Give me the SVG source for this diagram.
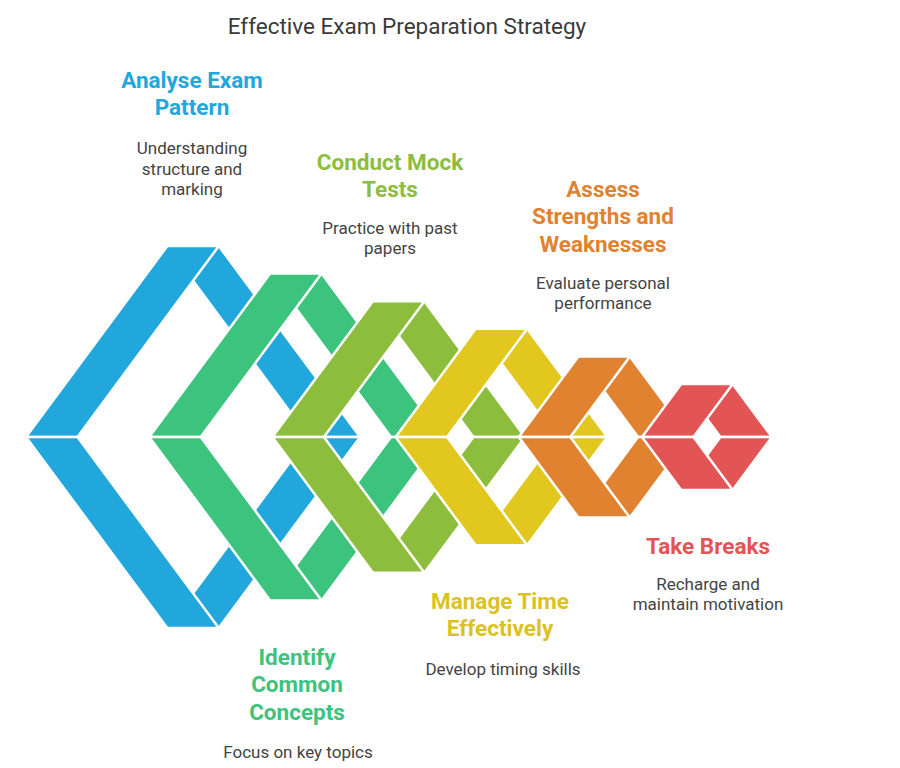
<svg xmlns="http://www.w3.org/2000/svg" width="900" height="768" viewBox="0 0 900 768">
<style>
.arm{stroke:#ffffff;stroke-width:2.5;stroke-linejoin:round}
.title{font-family:Roboto,"Liberation Sans",sans-serif;font-size:22.5px;fill:#3a3a3a;text-anchor:middle}
.head{font-family:Roboto,"Liberation Sans",sans-serif;font-size:22.5px;font-weight:bold;text-anchor:middle}
.desc{font-family:Roboto,"Liberation Sans",sans-serif;font-size:17px;fill:#444444;text-anchor:middle}
.c0{fill:#22a7dc}.c1{fill:#3cc37e}.c2{fill:#8dbd3c}.c3{fill:#e2c81e}.c4{fill:#e08230}.c5{fill:#e35454}
</style>
<rect width="900" height="768" fill="#ffffff"/>
<text class="title" x="407" y="34">Effective Exam Preparation Strategy</text>

<g id="node-analyse">
<g class="c0">
<polygon class="arm" points="167.3,246 218.8,246 360.1,437 308.6,437"/>
<polygon class="arm" points="167.3,628 218.8,628 360.1,437 308.6,437"/>
<polygon class="arm" points="26,437 77.5,437 218.8,246 167.3,246"/>
<polygon class="arm" points="26,437 77.5,437 218.8,628 167.3,628"/>
</g>
<text class="head c0" x="192" y="88">Analyse Exam</text>
<text class="head c0" x="192" y="115">Pattern</text>
<text class="desc" x="192" y="154">Understanding</text>
<text class="desc" x="192" y="175">structure and</text>
<text class="desc" x="192" y="195">marking</text>
</g>

<g id="node-identify">
<g class="c1">
<polygon class="arm" points="270.1,273.6 321.6,273.6 442.5,437 391,437"/>
<polygon class="arm" points="270.1,600.4 321.6,600.4 442.5,437 391,437"/>
<polygon class="arm" points="149.2,437 200.7,437 321.6,273.6 270.1,273.6"/>
<polygon class="arm" points="149.2,437 200.7,437 321.6,600.4 270.1,600.4"/>
</g>
<text class="head c1" x="297" y="665">Identify</text>
<text class="head c1" x="297" y="692">Common</text>
<text class="head c1" x="297" y="720">Concepts</text>
<text class="desc" x="298" y="758">Focus on key topics</text>
</g>

<g id="node-mock">
<g class="c2">
<polygon class="arm" points="372.9,301.2 424.4,301.2 524.9,437 473.4,437"/>
<polygon class="arm" points="372.9,572.8 424.4,572.8 524.9,437 473.4,437"/>
<polygon class="arm" points="272.4,437 323.9,437 424.4,301.2 372.9,301.2"/>
<polygon class="arm" points="272.4,437 323.9,437 424.4,572.8 372.9,572.8"/>
</g>
<text class="head c2" x="390" y="170">Conduct Mock</text>
<text class="head c2" x="390" y="197">Tests</text>
<text class="desc" x="390" y="234">Practice with past</text>
<text class="desc" x="390" y="254">papers</text>
</g>

<g id="node-time">
<g class="c3">
<polygon class="arm" points="475.7,328.8 527.2,328.8 607.3,437 555.8,437"/>
<polygon class="arm" points="475.7,545.2 527.2,545.2 607.3,437 555.8,437"/>
<polygon class="arm" points="395.6,437 447.1,437 527.2,328.8 475.7,328.8"/>
<polygon class="arm" points="395.6,437 447.1,437 527.2,545.2 475.7,545.2"/>
</g>
<text class="head" x="500" y="609" fill="#dcc21e">Manage Time</text>
<text class="head" x="500" y="636" fill="#dcc21e">Effectively</text>
<text class="desc" x="503" y="675">Develop timing skills</text>
</g>

<g id="node-assess">
<g class="c4">
<polygon class="arm" points="578.4,356.4 629.9,356.4 689.5,437 638,437"/>
<polygon class="arm" points="578.4,517.6 629.9,517.6 689.5,437 638,437"/>
<polygon class="arm" points="518.8,437 570.3,437 629.9,356.4 578.4,356.4"/>
<polygon class="arm" points="518.8,437 570.3,437 629.9,517.6 578.4,517.6"/>
</g>
<text class="head c4" x="603" y="197">Assess</text>
<text class="head c4" x="603" y="224">Strengths and</text>
<text class="head c4" x="603" y="252">Weaknesses</text>
<text class="desc" x="603" y="289">Evaluate personal</text>
<text class="desc" x="603" y="309">performance</text>
</g>

<g id="node-breaks">
<g class="c5">
<polygon class="arm" points="681.2,384 732.7,384 771.9,437 720.4,437"/>
<polygon class="arm" points="681.2,490 732.7,490 771.9,437 720.4,437"/>
<polygon class="arm" points="642,437 693.5,437 732.7,384 681.2,384"/>
<polygon class="arm" points="642,437 693.5,437 732.7,490 681.2,490"/>
</g>
<text class="head c5" x="708" y="554">Take Breaks</text>
<text class="desc" x="708" y="590">Recharge and</text>
<text class="desc" x="708" y="610">maintain motivation</text>
</g>

<g id="connectors"/>
</svg>
